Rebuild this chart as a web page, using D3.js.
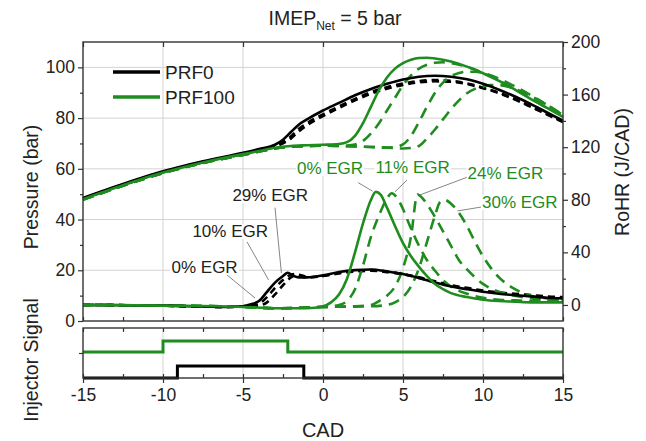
<!DOCTYPE html>
<html>
<head>
<meta charset="utf-8">
<script src="https://cdn.jsdelivr.net/npm/d3@7"></script>
<style>
  body { margin: 0; background: #fff; }
  text { font-family: "Liberation Sans", Arial, sans-serif; fill: #222; }
  .grid line { stroke: #d3d3d3; stroke-width: 1; }
  .axis path { display: none; }
  .axis line { stroke: #333; stroke-width: 1.2; }
  .axis text { font-size: 17.5px; fill: #222; }
</style>
</head>
<body>
<svg id="chart" width="646" height="441"></svg>
<script>
/* global d3 */

const green = '#1e8c1e'

// pressure traces (bar) as [CAD, value]
const prf0Pressure = [[-15,48.5],[-12.5,54],[-10,59],[-7.5,63],[-5,66.3],[-4,67.8],[-3,69.5],[-2.5,71.5],[-2,74.5],[-1.5,77.5],[-1,79.5],[0,83],[1,86],[2,89],[3,91.5],[4,93.5],[5,95.2],[6,96.3],[7,96.7],[8,96.3],[9,95.3],[10,93.5],[11,91.2],[12,88.5],[13,85.5],[14,82.2],[15,79]]
const prf0Egr10Pressure = [[-15,48.3],[-12.5,53.8],[-10,58.8],[-7.5,62.8],[-5,66],[-4,67.5],[-3,69],[-2.5,70.5],[-2,72.8],[-1.5,75.8],[-1,78],[0,81.5],[1,84.6],[2,87.6],[3,90.2],[4,92.2],[5,93.6],[6,94.6],[7,95],[8,94.7],[9,93.7],[10,92],[11,90],[12,87.5],[13,84.6],[14,81.6],[15,78.6]]
const prf0Egr29Pressure = [[-15,48.2],[-12.5,53.6],[-10,58.6],[-7.5,62.6],[-5,65.8],[-4,67.3],[-3,68.7],[-2.5,70],[-2,72],[-1.5,74.8],[-1,77.2],[0,80.8],[1,84],[2,87],[3,89.6],[4,91.6],[5,93.1],[6,94.1],[7,94.5],[8,94.3],[9,93.4],[10,91.8],[11,89.8],[12,87.3],[13,84.4],[14,81.4],[15,78.4]]
const prf100Pressure = [[-15,48],[-12.5,53.5],[-10,58.5],[-7.5,62.5],[-5,65.8],[-4,67],[-3,68.3],[-2,69],[-1,69.3],[0,69.5],[1,69.8],[1.5,70.5],[2,73],[2.5,78],[3,84.5],[3.5,91],[4,96],[4.5,99.5],[5,101.7],[5.5,103],[6,103.7],[6.5,103.8],[7,103.5],[8,102.3],[9,100.3],[10,97.7],[11,94.7],[12,91.2],[13,87.5],[14,84],[15,80.5]]
const prf100Egr11Pressure = [[-15,47.8],[-12.5,53.3],[-10,58.3],[-7.5,62.3],[-5,65.5],[-4,66.8],[-3,68],[-2,68.7],[-1,69],[0,69.2],[1,69.1],[1.5,69.2],[2,69.6],[2.5,71],[3,74],[3.5,78],[4,83],[4.5,88],[5,93],[5.5,96.8],[6,99.5],[6.5,101],[7,101.8],[7.5,102],[8,101.7],[9,100.2],[10,97.8],[11,94.8],[12,91.3],[13,87.7],[14,84.2],[15,80.7]]
const prf100Egr24Pressure = [[-15,47.8],[-12.5,53.3],[-10,58.3],[-7.5,62.3],[-5,65.5],[-4,66.8],[-3,68],[-2,68.7],[-1,69],[0,69.1],[1,69],[2,68.8],[3,68.6],[4,68.4],[4.5,68.6],[5,69.6],[5.5,73],[6,78.5],[6.5,84.5],[7,90],[7.5,94],[8,96.5],[8.5,97.8],[9,98.3],[9.5,98.3],[10,97.8],[11,95.5],[12,92.5],[13,89],[14,85.2],[15,81.2]]
const prf100Egr30Pressure = [[-15,47.8],[-12.5,53.3],[-10,58.3],[-7.5,62.3],[-5,65.5],[-4,66.8],[-3,68],[-2,68.7],[-1,69],[0,69.1],[1,69],[2,68.8],[3,68.6],[4,68.3],[5,68],[5.5,68.2],[6,69],[6.5,72],[7,75.5],[7.5,79.5],[8,83.5],[8.5,87],[9,89.8],[9.5,91.5],[10,92.5],[10.5,93],[11,93],[12,91.5],[13,88.7],[14,85.2],[15,81.2]]

// rate of heat release (J/CAD) as [CAD, value]
const prf0Rohr = [[-15,0],[-10,-0.5],[-6,-1.5],[-5,-1],[-4.5,0.5],[-4,3],[-3.5,10],[-3,17],[-2.5,22],[-2.2,24.5],[-1.9,22.5],[-1.5,21],[-1,21],[0,22.5],[1,25],[2,26.5],[3,27],[4,25.5],[5,23.5],[6,20.5],[7,17],[8,14],[9,12],[10,10],[11,8.5],[12,7.5],[13,6.5],[14,5.5],[15,5]]
const prf0Egr10Rohr = [[-15,0],[-10,-0.5],[-6,-1.5],[-4.5,-0.5],[-4,1],[-3.5,6],[-3,13],[-2.5,19],[-2,23],[-1.7,23.5],[-1.3,21.5],[-1,21],[0,22],[1,24.5],[2,26],[3,26.5],[4,25.5],[5,23.5],[6,20.5],[7,17.5],[8,14.5],[9,12.5],[10,10.5],[11,9],[12,8],[13,7],[14,6],[15,5.5]]
const prf0Egr29Rohr = [[-15,0],[-10,-0.5],[-6,-1.5],[-4,-0.5],[-3.5,2],[-3,8],[-2.5,15],[-2,21],[-1.6,23],[-1.2,22],[-1,21],[0,22],[1,24],[2,25.5],[3,26],[4,25],[5,23.5],[6,21],[7,18],[8,15],[9,13],[10,11],[11,9.5],[12,8.5],[13,7.5],[14,6.5],[15,6]]
const prf100Rohr = [[-15,0],[-10,-0.5],[-5,-1.5],[-3,-2.5],[-1,-2.5],[0,-1],[0.5,2],[1,8],[1.5,20],[2,40],[2.5,62],[3,80],[3.3,86],[3.6,84],[4,74],[4.5,60],[5,47],[5.5,37],[6,29],[6.5,22],[7,16],[7.5,12],[8,9],[9,6],[10,4],[11,3],[12,2.5],[13,2],[14,2],[15,2]]
const prf100Egr11Rohr = [[-15,0],[-10,-0.5],[-5,-1.5],[-3,-2.5],[0,-1.5],[1,0],[1.5,3],[2,12],[2.5,30],[3,52],[3.5,68],[4,81],[4.3,85],[4.6,82],[5,73],[5.4,61],[6,45],[6.5,34],[7,26],[7.5,19],[8,14],[9,8.5],[10,5.5],[11,4],[12,3.5],[13,3],[14,3],[15,2.5]]
const prf100Egr24Rohr = [[-15,0],[-10,-0.5],[-5,-1.5],[-3,-2.5],[0,-1.5],[2,-1],[3,0],[3.5,3],[4,7],[4.5,14],[5,28],[5.5,52],[5.9,84],[6.3,80],[6.8,71],[7.5,56],[8,45],[8.5,34],[9,27],[9.5,21],[10,16],[11,10],[12,7],[13,5],[14,4],[15,3.5]]
const prf100Egr30Rohr = [[-15,0],[-10,-0.5],[-5,-1.5],[-3,-2.5],[0,-1.5],[3,-1],[4,0],[4.5,2],[5,6],[5.5,14],[6,28],[6.5,48],[7,68],[7.3,78],[7.6,80],[8,77],[8.5,70],[9,60],[9.5,48],[10,37],[10.5,28],[11,21],[12,12],[13,7],[14,5],[15,4]]

// injector signal (arbitrary units)
const prf0Injector = [[-15,0],[-9.1,0],[-9.1,1.2],[-1.2,1.2],[-1.2,0],[15,0]]
const prf100Injector = [[-15,2.6],[-10,2.6],[-10,3.7],[-2.2,3.7],[-2.2,2.6],[15,2.6]]

// ticks
const cadTicks = [-15, -10, -5, 0, 5, 10, 15]
const cadMinorTicks = d3.range(-15, 15.01, 2.5)
const pressureTicks = [0, 20, 40, 60, 80, 100]
const pressureMinorTicks = [10, 30, 50, 70, 90]
const rohrTicks = [0, 40, 80, 120, 160, 200]
const rohrMinorTicks = [20, 60, 100, 140, 180]

// annotations: text, label centre [CAD, RoHR], leader from, leader to
const blackLabels = [
  ['29% EGR', [-3.3, 83.7], [-3.0, 74], [-2.6, 24.3]],
  ['10% EGR', [-5.8, 56.3], [-4.75, 48], [-3.4, 19]],
  ['0% EGR', [-7.4, 28.9], [-6, 22.8], [-4.25, 5.3]]
]
const greenLabels = [
  ['0% EGR', [0.44, 104], [2.2, 93], [3.1, 86.5]],
  ['11% EGR', [5.6, 105], [5.25, 95], [4.5, 86]],
  ['24% EGR', [11.4, 100.4], [9.2, 98], [6.06, 83.7]],
  ['30% EGR', [12.3, 78.3], [9.9, 74.5], [8.4, 71.5]]
]

const plotTop = 42
const plotBottom = 321
const sigTop = 328
const sigBottom = 378
const plotLeft = 83
const plotRight = 563

const svg = d3.select('#chart')

const x = d3.scaleLinear().domain([-15, 15]).range([plotLeft, plotRight])
const yP = d3.scaleLinear().domain([0, 110]).range([plotBottom, plotTop])
const yR = d3.scaleLinear().domain([-12.2, 200]).range([plotBottom, plotTop])
const yS = d3.scaleLinear().domain([0, 5]).range([sigBottom, sigTop])

// grid
const grid = svg.append('g').attr('class', 'grid')
grid.selectAll('.vu').data([-10, -5, 0, 5, 10]).enter().append('line')
  .attr('x1', d => x(d)).attr('x2', d => x(d)).attr('y1', plotTop).attr('y2', plotBottom)
grid.selectAll('.vl').data([-10, -5, 0, 5, 10]).enter().append('line')
  .attr('x1', d => x(d)).attr('x2', d => x(d)).attr('y1', sigTop).attr('y2', sigBottom)
grid.selectAll('.h').data([20, 40, 60, 80, 100]).enter().append('line')
  .attr('x1', plotLeft).attr('x2', plotRight).attr('y1', d => yP(d)).attr('y2', d => yP(d))

// curves
const line = yScale => d3.line().x(d => x(d[0])).y(d => yScale(d[1])).curve(d3.curveMonotoneX)
const step = d3.line().x(d => x(d[0])).y(d => yS(d[1]))

const traces = [
  [prf0Egr10Pressure, yP, '#000', '7,5'],
  [prf0Egr29Pressure, yP, '#000', '7,5'],
  [prf0Egr10Rohr, yR, '#000', '7,5'],
  [prf0Egr29Rohr, yR, '#000', '7,5'],
  [prf100Egr11Pressure, yP, green, '11,7'],
  [prf100Egr24Pressure, yP, green, '11,7'],
  [prf100Egr30Pressure, yP, green, '11,7'],
  [prf100Egr11Rohr, yR, green, '11,7'],
  [prf100Egr24Rohr, yR, green, '11,7'],
  [prf100Egr30Rohr, yR, green, '11,7'],
  [prf0Pressure, yP, '#000', null],
  [prf0Rohr, yR, '#000', null],
  [prf100Pressure, yP, green, null],
  [prf100Rohr, yR, green, null]
]

svg.append('g').selectAll('path').data(traces).enter().append('path')
  .attr('d', d => line(d[1])(d[0]))
  .attr('fill', 'none')
  .attr('stroke', d => d[2])
  .attr('stroke-width', 2.6)
  .attr('stroke-dasharray', d => d[3])

svg.append('path').attr('d', step(prf100Injector)).attr('fill', 'none')
  .attr('stroke', green).attr('stroke-width', 3)
svg.append('path').attr('d', step(prf0Injector)).attr('fill', 'none')
  .attr('stroke', '#000').attr('stroke-width', 3)

// annotations
function annotate(list, color) {
  list.forEach(a => {
    svg.append('line')
      .attr('x1', x(a[2][0])).attr('y1', yR(a[2][1]))
      .attr('x2', x(a[3][0])).attr('y2', yR(a[3][1]))
      .attr('stroke', '#666').attr('stroke-width', 0.8)
    const g = svg.append('g')
    const t = g.append('text')
      .attr('x', x(a[1][0])).attr('y', yR(a[1][1]))
      .attr('dy', '0.35em')
      .attr('text-anchor', 'middle')
      .style('font-size', '17px')
      .style('fill', color)
      .text(a[0])
    const b = t.node().getBBox()
    g.insert('rect', 'text')
      .attr('x', b.x - 1).attr('y', b.y + 2)
      .attr('width', b.width + 2).attr('height', b.height - 4)
      .attr('fill', '#fff')
  })
}
annotate(blackLabels, '#222')
annotate(greenLabels, green)

// frames
svg.append('rect').attr('x', plotLeft).attr('y', plotTop).attr('width', plotRight - plotLeft).attr('height', plotBottom - plotTop)
  .attr('fill', 'none').attr('stroke', '#333').attr('stroke-width', 1.4)
svg.append('rect').attr('x', plotLeft).attr('y', sigTop).attr('width', plotRight - plotLeft).attr('height', sigBottom - sigTop)
  .attr('fill', 'none').attr('stroke', '#333').attr('stroke-width', 1.4)

// axes
const plain = d => String(d)
svg.append('g').attr('class', 'axis').attr('transform', `translate(${plotLeft},0)`)
  .call(d3.axisLeft(yP).tickValues(pressureTicks).tickSize(5).tickPadding(3).tickFormat(plain))
svg.append('g').attr('class', 'axis').attr('transform', `translate(${plotLeft},0)`)
  .call(d3.axisLeft(yP).tickValues(pressureMinorTicks).tickSize(3).tickFormat(''))
svg.append('g').attr('class', 'axis').attr('transform', `translate(${plotRight},0)`)
  .call(d3.axisRight(yR).tickValues(rohrTicks).tickSize(5).tickPadding(3).tickFormat(plain))
svg.append('g').attr('class', 'axis').attr('transform', `translate(${plotRight},0)`)
  .call(d3.axisRight(yR).tickValues(rohrMinorTicks).tickSize(3).tickFormat(''))
svg.append('g').attr('class', 'axis').attr('transform', `translate(0,${plotTop})`)
  .call(d3.axisTop(x).tickValues(cadTicks).tickSize(-5).tickFormat(''))
svg.append('g').attr('class', 'axis').attr('transform', `translate(0,${plotBottom})`)
  .call(d3.axisBottom(x).tickValues(cadMinorTicks).tickSize(-4).tickFormat(''))
svg.append('g').attr('class', 'axis').attr('transform', `translate(0,${sigTop})`)
  .call(d3.axisTop(x).tickValues(cadMinorTicks).tickSize(-4).tickFormat(''))
svg.append('g').attr('class', 'axis').attr('transform', `translate(0,${sigBottom})`)
  .call(d3.axisBottom(x).tickValues(cadMinorTicks).tickSize(-4).tickFormat(''))
svg.append('g').attr('class', 'axis').attr('transform', `translate(0,${sigBottom})`)
  .call(d3.axisBottom(x).tickValues(cadTicks).tickSize(5).tickPadding(6).tickFormat(plain))
svg.append('g').attr('class', 'axis').attr('transform', `translate(${plotLeft},0)`)
  .call(d3.axisLeft(yS).tickValues([2.5]).tickSize(4).tickFormat(''))

// legend
const legend = [['PRF0', '#000'], ['PRF100', green]]
const lg = svg.append('g').selectAll('g').data(legend).enter().append('g')
  .attr('transform', (d, i) => `translate(113,${72 + i * 25})`)
lg.append('line').attr('x1', 0).attr('x2', 47).attr('stroke', d => d[1]).attr('stroke-width', 3.5)
lg.append('text').attr('x', 52).attr('dy', '0.36em').style('font-size', '19px').text(d => d[0])

// titles
const title = svg.append('text').attr('x', 335).attr('y', 25).attr('text-anchor', 'middle').style('font-size', '19.5px')
title.append('tspan').text('IMEP')
title.append('tspan').attr('dy', 5).style('font-size', '12px').text('Net')
title.append('tspan').attr('dy', -5).text(' = 5 bar')

svg.append('text').attr('x', 323).attr('y', 437).attr('text-anchor', 'middle').style('font-size', '20px').text('CAD')
svg.append('text').attr('transform', 'translate(38,187) rotate(-90)').attr('text-anchor', 'middle')
  .style('font-size', '19.5px').text('Pressure (bar)')
svg.append('text').attr('transform', 'translate(38,360) rotate(-90)').attr('text-anchor', 'middle')
  .style('font-size', '19.5px').text('Injector Signal')
svg.append('text').attr('transform', 'translate(629,172) rotate(-90)').attr('text-anchor', 'middle')
  .style('font-size', '19.5px').text('RoHR (J/CAD)')
</script>
</body>
</html>
